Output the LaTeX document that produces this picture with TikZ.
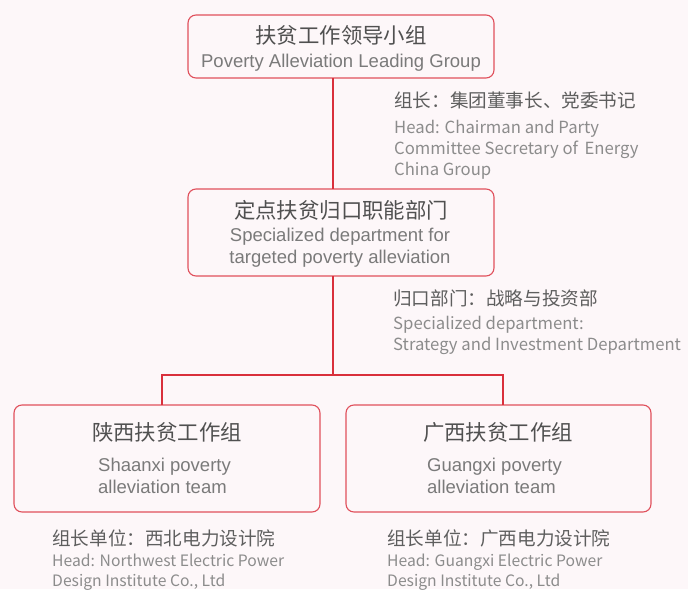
\documentclass[tikz,border=0pt]{standalone}
\usepackage{fontspec}
\setmainfont{Liberation Sans}
\newfontfamily\cjk{Noto Sans CJK SC}
\definecolor{bgcol}{HTML}{FDF7F9}
\definecolor{boxline}{HTML}{E0505C}
\definecolor{linkcol}{HTML}{D9303C}
\definecolor{titlecol}{HTML}{505050}
\definecolor{encol}{HTML}{7A7A7A}
\definecolor{notezh}{HTML}{5E5E5E}
\definecolor{noteen}{HTML}{8C8C8C}
\begin{document}
\begin{tikzpicture}[x=1pt,y=-1pt,
  box/.style={draw=boxline, line width=1.1pt, rounded corners=8pt, fill=bgcol, inner sep=0pt},
  link/.style={draw=linkcol, line width=1.1pt},
  zhtitle/.style={font=\cjk\fontsize{21.4}{25}\selectfont, text=titlecol, inner sep=0pt},
  entitle/.style={font=\fontsize{18.5}{22}\selectfont, text=encol, inner sep=0pt, align=center},
  enleft/.style={font=\fontsize{18.5}{22}\selectfont, text=encol, inner sep=0pt, align=left},
  notezhs/.style={font=\cjk\fontsize{18.6}{22}\selectfont, text=notezh, inner sep=0pt, anchor=west},
  noteens/.style={font=\cjk\fontsize{16.7}{21.2}\selectfont, text=noteen, inner sep=0pt, anchor=west, align=left},
  noteensmall/.style={font=\cjk\fontsize{15.7}{19.5}\selectfont, text=noteen, inner sep=0pt, anchor=west, align=left}
]
\fill[bgcol] (0,0) rectangle (688,589);
\useasboundingbox (0,0) rectangle (688,589);

% boxes
\node[box, minimum width=306pt, minimum height=63pt] (top) at (341,46.5) {};
\node[box, minimum width=306pt, minimum height=87pt] (mid) at (341,232.5) {};
\node[box, minimum width=306pt, minimum height=107pt] (left) at (167,458.5) {};
\node[box, minimum width=305pt, minimum height=107pt] (right) at (498.5,458.5) {};

% connectors
\coordinate (topb) at (333,78);
\coordinate (midt) at (333,189);
\coordinate (midb) at (333,276);
\coordinate (split) at (333,375);
\coordinate (lcorner) at (162,375);
\coordinate (rcorner) at (503,375);
\coordinate (lt) at (162,405);
\coordinate (rt) at (503,405);
\draw[link] (topb) -- (midt);
\draw[link] (midb) -- (split);
\draw[link] (lt) -- (lcorner) -- (rcorner) -- (rt);

% box texts
\node[zhtitle] (topzh) at (341,35.5) {扶贫工作领导小组};
\node[entitle] (topen) at (341,62.5) {Poverty Alleviation Leading Group};
\node[zhtitle] (midzh) at (341,210.5) {定点扶贫归口职能部门};
\node[entitle] (miden) at (340,248) {Specialized department for\\targeted poverty alleviation};
\node[zhtitle] (leftzh) at (167,432.5) {陕西扶贫工作组};
\node[enleft, anchor=west] (leften) at (98,476) {Shaanxi poverty\\alleviation team};
\node[zhtitle] (rightzh) at (498,432.5) {广西扶贫工作组};
\node[enleft, anchor=west] (righten) at (427,476) {Guangxi poverty\\alleviation team};

% notes
\node[notezhs] (n1zh) at (394,100) {组长：集团董事长、党委书记};
\node[noteens] (n1en) at (394,150) {Head: Chairman and Party\\Committee Secretary of\, Energy\\China Group};
\node[notezhs] (n2zh) at (393,298) {归口部门：战略与投资部};
\node[noteens] (n2en) at (393,335.5) {Specialized department:\\Strategy and Investment Department};
\node[notezhs] (n3zh) at (52,538) {组长单位：西北电力设计院};
\node[noteensmall] (n3en) at (52,572) {Head: Northwest Electric Power\\Design Institute Co., Ltd};
\node[notezhs] (n4zh) at (387,538) {组长单位：广西电力设计院};
\node[noteensmall] (n4en) at (387,572) {Head: Guangxi Electric Power\\Design Institute Co., Ltd};
\end{tikzpicture}
\end{document}
